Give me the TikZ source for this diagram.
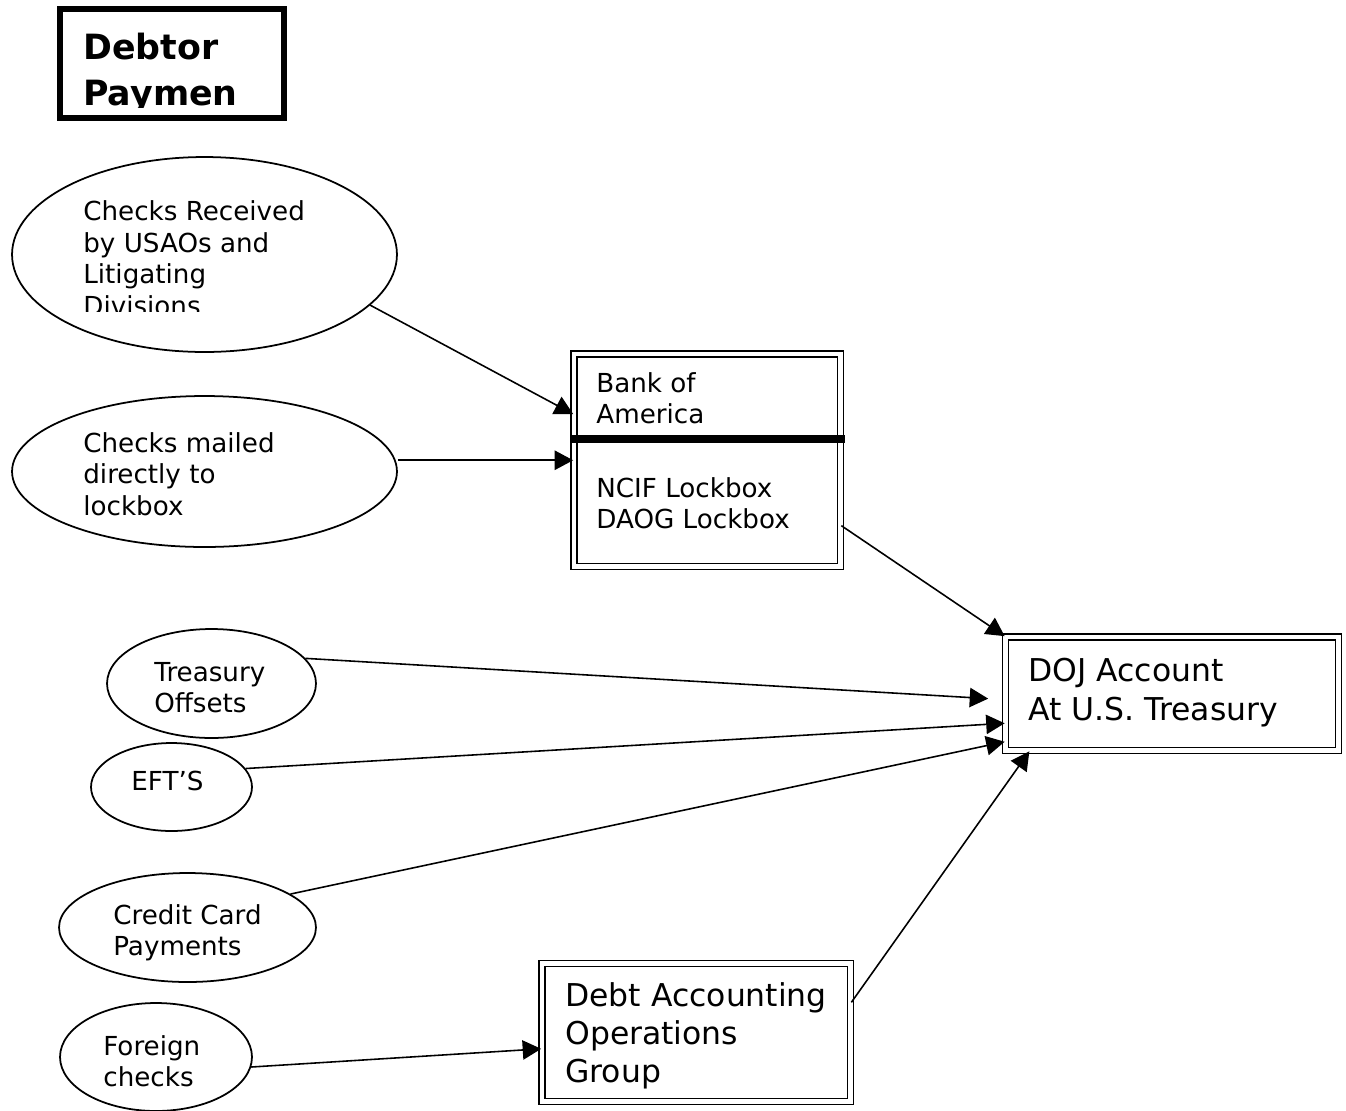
\documentclass[tikz,border=0pt]{standalone}
\usepackage{fontspec}
\setmainfont{DejaVu Sans}
\usetikzlibrary{arrows.meta,shapes.geometric}

\begin{document}
\begin{tikzpicture}[x=0.02cm, y=-0.02cm,
    source/.style={draw, ellipse, line width=1pt, inner sep=0pt},
    frame/.style={draw, double, line width=1pt, double distance=2.4pt, inner sep=0pt},
    txt/.style={anchor=north west, align=left, inner sep=0pt, font=\fontsize{14.9pt}{17.9pt}\selectfont},
    bigtxt/.style={txt, font=\fontsize{17.9pt}{21.7pt}\selectfont},
    flow/.style={-{Triangle[length=10.5pt, width=11pt]}, line width=0.9pt}]
    \useasboundingbox (0,0) rectangle (1346,1110);

    \node[draw, line width=3.4pt, minimum width=4.48cm, minimum height=2.18cm] (title) at (172,63.5) {};
    \begin{scope}
        \clip (60,9) rectangle (235.5,107);
        \node[txt, font=\bfseries\fontsize{19.8pt}{26.1pt}\selectfont] (titletxt) at (83,32.4) {Debtor\\Payments};
    \end{scope}

    \node[source, minimum width=7.7cm, minimum height=3.9cm] (recvd) at (204.5,254.5) {};
    \begin{scope}
        \clip (0,150) rectangle (420,311);
        \node[txt] (recvdtxt) at (83,200.7) {Checks Received\\by USAOs and\\Litigating\\Divisions};
    \end{scope}
    \node[source, minimum width=7.7cm, minimum height=3.02cm] (mailed) at (204.5,471.5) {};
    \node[txt] (mailedtxt) at (83,432.2) {Checks mailed\\directly to\\lockbox};

    \node[frame, minimum width=5.33cm, minimum height=4.25cm] (bank) at (707.25,460.25) {};
    \node[txt] (banktxt) at (596,372.2) {Bank of\\America};
    \node[txt] (lockboxtxt) at (596,477.2) {NCIF Lockbox\\DAOG Lockbox};
    \draw[line width=4pt] (571,439) -- (845,439);

    \node[source, minimum width=4.18cm, minimum height=2.18cm] (offsets) at (211.5,683.5) {};
    \node[txt] (offsetstxt) at (154,661.7) {Treasury\\Offsets};
    \node[source, minimum width=3.22cm, minimum height=1.76cm] (eft) at (171.5,787) {};
    \node[txt] (efttxt) at (131,770.7) {EFT’S};
    \node[source, minimum width=5.14cm, minimum height=2.18cm] (card) at (187.5,927.5) {};
    \node[txt] (cardtxt) at (113,904.2) {Credit Card\\Payments};
    \node[source, minimum width=3.84cm, minimum height=2.16cm] (foreign) at (156,1057) {};
    \node[txt] (foreigntxt) at (103,1035) {Foreign\\checks};

    \node[frame, minimum width=6.66cm, minimum height=2.27cm] (doj) at (1172,693.75) {};
    \node[bigtxt] (dojtxt) at (1028,658.2) {DOJ Account\\At U.S. Treasury};
    \node[frame, minimum width=6.17cm, minimum height=2.76cm] (daog) at (696.25,1032.5) {};
    \node[bigtxt] (daogtxt) at (565,982) {Debt Accounting\\Operations\\Group};

    \draw[flow] (recvd.-17) -- (bank.161);
    \draw[flow] (mailed.east |- bank.west) -- (bank.west);
    \draw[flow] (bank.-26) -- (doj.north west);
    \draw[flow, shorten >=0.33cm] (offsets.15) -- (doj.182);
    \draw[flow] (eft.14) -- (doj.190);
    \draw[flow] (card.18) -- (doj.196);
    \draw[flow] (foreign.-6) -- (daog.186);
    \draw[flow] (daog.11) -- (doj.202);
\end{tikzpicture}
\end{document}
